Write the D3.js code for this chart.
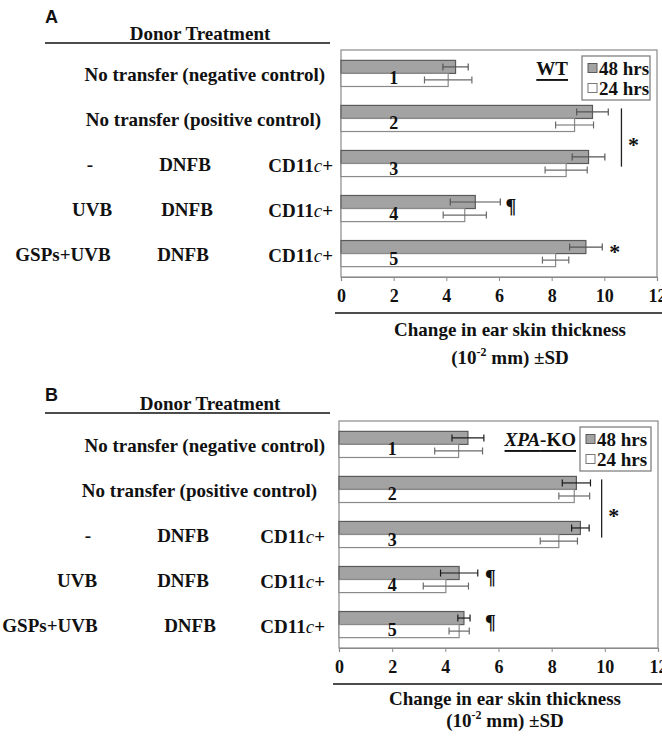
<!DOCTYPE html>
<html>
<head>
<meta charset="utf-8">
<script src="https://cdn.jsdelivr.net/npm/d3@7"></script>
<style>
body { margin: 0; background: #fff; }
</style>
</head>
<body>
<svg id="wykres"></svg>
<script>
// dane (10^-2 mm)
const groups = ['1', '2', '3', '4', '5'];
const series = ['48 hrs', '24 hrs'];
const xTicks = [0, 2, 4, 6, 8, 10, 12];

const wt48 = [4.35, 9.55, 9.4, 5.1, 9.3];
const wt48sd = [0.48, 0.6, 0.62, 0.95, 0.62];
const wt24 = [4.07, 8.87, 8.55, 4.7, 8.15];
const wt24sd = [0.9, 0.72, 0.8, 0.82, 0.5];

const ko48 = [4.85, 8.93, 9.08, 4.52, 4.7];
const ko48sd = [0.6, 0.53, 0.33, 0.7, 0.23];
const ko24 = [4.5, 8.85, 8.27, 4.02, 4.52];
const ko24sd = [0.9, 0.58, 0.7, 0.85, 0.38];

const rowLabels = [
	['No transfer (negative control)'],
	['No transfer (positive control)'],
	['-', 'DNFB', 'CD11c+'],
	['UVB', 'DNFB', 'CD11c+'],
	['GSPs+UVB', 'DNFB', 'CD11c+']
];

const serif = '"Liberation Serif", "Times New Roman", serif';
const sans = '"Liberation Sans", Arial, sans-serif';

let svg = d3.select('#wykres').attr('width', 662).attr('height', 738);

function txt(x, y, s, size, anchor, weight) {
	return svg.append('text')
		.attr('x', x).attr('y', y)
		.attr('dominant-baseline', 'central')
		.attr('text-anchor', anchor || 'middle')
		.attr('font-family', serif)
		.attr('font-weight', weight || 'bold')
		.attr('font-size', size)
		.attr('fill', '#111')
		.text(s);
}

// "CD11c+" z kursywa na c
function cd11(x, y) {
	let t = txt(x, y, '', 19, 'end');
	t.append('tspan').text('CD11');
	t.append('tspan').attr('font-style', 'italic').attr('font-weight', 'normal').text('c');
	t.append('tspan').text('+');
}

function panel(o) {
	let x = d3.scaleLinear().domain([0, 12]).range([o.x0, o.x1]);
	let y = d3.scaleBand().domain(groups).range([o.y0, o.y1])
		.paddingInner(0.42).paddingOuter(0.23);
	let ys = d3.scaleBand().domain(series).range([0, y.bandwidth()]);

	// litera panelu i naglowek tabeli
	svg.append('text').attr('x', 45).attr('y', o.letterY)
		.attr('dominant-baseline', 'central')
		.attr('font-family', sans).attr('font-weight', 'bold').attr('font-size', 18)
		.attr('fill', '#111').text(o.letter);
	txt(o.headX, o.headY, 'Donor Treatment', 19, 'middle', 'bold');
	svg.append('line').attr('x1', 45).attr('x2', 330)
		.attr('y1', o.headY + 10).attr('y2', o.headY + 10)
		.attr('stroke', '#111').attr('stroke-width', 1.3);

	// wiersze opisu
	rowLabels.forEach(function(r, i) {
		let cy = y(groups[i]) + y.bandwidth() / 2 + 1;
		if (r.length === 1) {
			txt(o.rowEnd[i], cy, r[0], 19, 'end');
		} else {
			txt(o.col1[i], cy, r[0], 19, 'middle');
			txt(o.col2[i], cy, r[1], 19, 'middle');
			cd11(o.col3, cy);
		}
	});

	// ramka
	svg.append('rect')
		.attr('x', o.x0).attr('y', o.y0)
		.attr('width', o.x1 - o.x0).attr('height', o.y1 - o.y0)
		.attr('fill', 'none').attr('stroke', '#8a8a8a').attr('stroke-width', 1.2);

	// os x
	let xAxis = d3.axisBottom(x).tickValues(xTicks).tickSize(4).tickPadding(8);
	let g = svg.append('g').attr('transform', 'translate(0,' + o.y1 + ')').call(xAxis);
	g.select('.domain').attr('stroke', '#8a8a8a').attr('stroke-width', 1.2);
	g.selectAll('.tick line').attr('stroke', '#8a8a8a');
	g.selectAll('.tick text')
		.attr('font-family', serif).attr('font-weight', 'bold')
		.attr('font-size', 18).attr('fill', '#111');

	// slupki
	let vals = {
		'48 hrs': [o.v48, o.sd48],
		'24 hrs': [o.v24, o.sd24]
	};
	groups.forEach(function(k, i) {
		series.forEach(function(s) {
			let v = vals[s][0][i], sd = vals[s][1][i];
			let top = y(k) + ys(s);
			let h = ys.bandwidth();
			svg.append('rect')
				.attr('x', x(0)).attr('y', top)
				.attr('width', x(v) - x(0)).attr('height', h)
				.attr('fill', s === '48 hrs' ? '#a3a3a3' : '#fff')
				.attr('stroke', s === '48 hrs' ? '#5a5a5a' : '#8a8a8a')
				.attr('stroke-width', 1.2);
			let cy = top + h / 2;
			let col = s === '48 hrs' ? o.errDark : '#6a6a6a';
			svg.append('line')
				.attr('x1', x(v - sd)).attr('x2', x(v + sd))
				.attr('y1', cy).attr('y2', cy)
				.attr('stroke', col).attr('stroke-width', 1.2);
			[v - sd, v + sd].forEach(function(e) {
				svg.append('line')
					.attr('x1', x(e)).attr('x2', x(e))
					.attr('y1', cy - 3.5).attr('y2', cy + 3.5)
					.attr('stroke', col).attr('stroke-width', 1.2);
			});
		});
		// numer grupy
		txt(x(2), y(k) + ys.bandwidth() + 5, k, 18, 'middle');
	});

	// legenda
	let lx = o.x1 - o.legW - 7, ly = o.y0 + 6;
	svg.append('rect').attr('x', lx).attr('y', ly)
		.attr('width', o.legW).attr('height', 44)
		.attr('fill', '#fff').attr('stroke', '#777').attr('stroke-width', 1.2);
	series.forEach(function(s, j) {
		let cy = ly + 12 + j * 20;
		svg.append('rect').attr('x', lx + 6).attr('y', cy - 4.5)
			.attr('width', 9).attr('height', 9)
			.attr('fill', j === 0 ? '#a3a3a3' : '#fff')
			.attr('stroke', j === 0 ? '#5a5a5a' : '#777');
		txt(lx + 17, cy, s, 19, 'start');
	});

	// etykieta szczepu
	let tag = txt(lx - o.tagGap, o.y0 + 18, '', 19, 'end')
		.attr('text-decoration', 'underline');
	o.tag.forEach(function(p) {
		tag.append('tspan').attr('font-style', p[1] ? 'italic' : 'normal').text(p[0]);
	});

	// istotnosc
	svg.append('line')
		.attr('x1', x(o.sigX)).attr('x2', x(o.sigX))
		.attr('y1', y('2') + 3).attr('y2', y('3') + y.bandwidth() * 0.62)
		.attr('stroke', '#222').attr('stroke-width', 1.3);
	txt(x(o.sigX) + 12, (y('2') + y('3') + y.bandwidth()) / 2 + 4, '*', 22, 'middle');
	o.marks.forEach(function(m) {
		txt(x(m[1]), y(m[0]) + y.bandwidth() * 0.42, m[2], m[2] === '*' ? 22 : 20, 'middle');
	});

	// podpis osi
	svg.append('line').attr('x1', o.x0 - 6).attr('x2', 662)
		.attr('y1', o.y1 + 36).attr('y2', o.y1 + 36)
		.attr('stroke', '#111').attr('stroke-width', 1.3);
	txt(o.titleX, o.y1 + o.t1, 'Change in ear skin thickness', 19, 'middle');
	let t2 = txt(o.titleX, o.y1 + o.t2, '', 19, 'middle');
	t2.append('tspan').text('(10');
	t2.append('tspan').attr('font-size', 12).attr('dy', -5).text('-2');
	t2.append('tspan').attr('dy', 5).text(' mm) \u00b1SD');
}

panel({
	letter: 'A', letterY: 17, headX: 200, headY: 33,
	x0: 341, x1: 657, y0: 50, y1: 277,
	v48: wt48, sd48: wt48sd, v24: wt24, sd24: wt24sd,
	errDark: '#555',
	rowEnd: [325, 321],
	col1: [0, 0, 90, 92, 63], col2: [0, 0, 185, 187, 183], col3: 333,
	legW: 68, tagGap: 14,
	tag: [['WT', false]],
	sigX: 10.65,
	marks: [['4', 6.45, '\u00b6'], ['5', 10.4, '*']],
	titleX: 510, t1: 52, t2: 80
});

panel({
	letter: 'B', letterY: 395, headX: 210, headY: 403,
	x0: 339, x1: 658, y0: 421, y1: 648,
	v48: ko48, sd48: ko48sd, v24: ko24, sd24: ko24sd,
	errDark: '#1a1a1a',
	rowEnd: [325, 317],
	col1: [0, 0, 88, 77, 50], col2: [0, 0, 183, 183, 190], col3: 325,
	legW: 71, tagGap: 4,
	tag: [['XPA', true], ['-KO', false]],
	sigX: 9.88,
	marks: [['4', 5.7, '\u00b6'], ['5', 5.7, '\u00b6']],
	titleX: 505, t1: 50, t2: 72
});
</script>
</body>
</html>
